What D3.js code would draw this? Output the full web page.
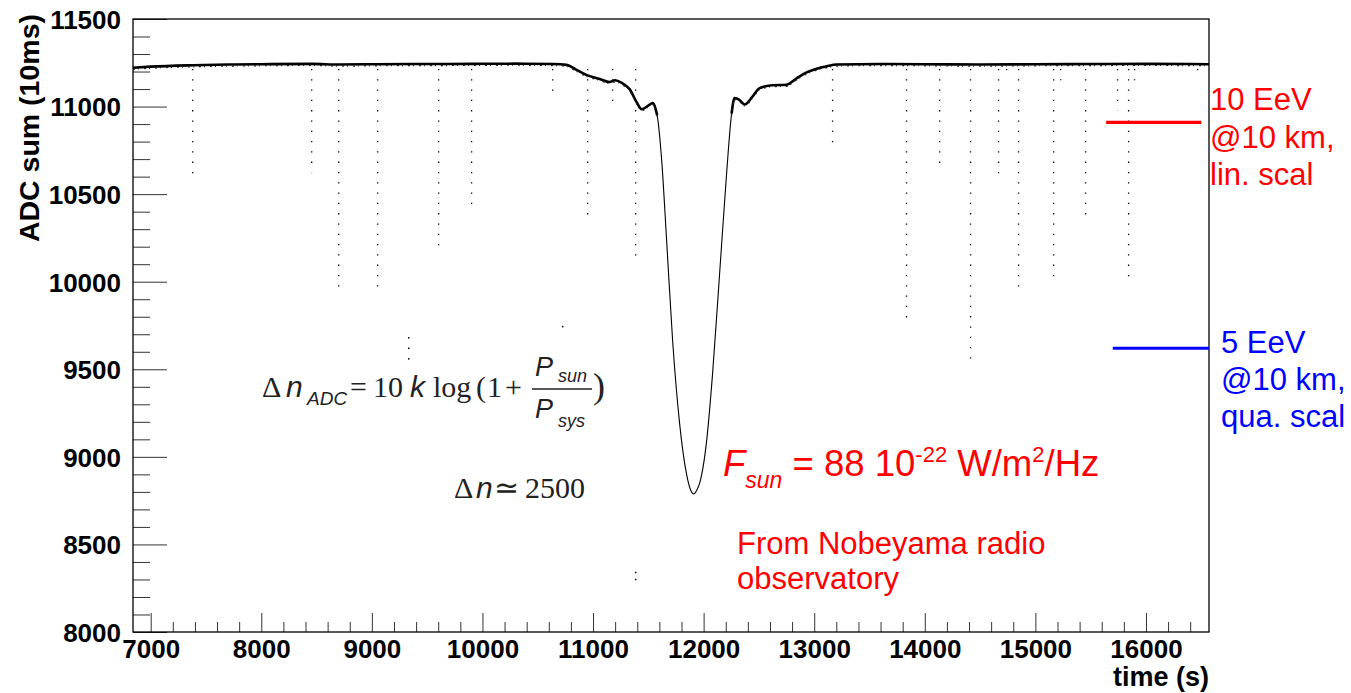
<!DOCTYPE html>
<html>
<head>
<meta charset="utf-8">
<script src="https://cdn.jsdelivr.net/npm/d3@7"></script>
<style>
  body { margin: 0; background: #fff; }
  svg { display: block; }
  .tick line { stroke: #333; }
  .tick text { font-family: "Liberation Sans", Arial, sans-serif; font-weight: bold; font-size: 26px; fill: #000; }
</style>
</head>
<body>
<div id="chart"></div>
<script>
// ADC sum vs time, sun crossing the pixel
var curveTimes = [6840, 7000, 7380, 7700, 8000, 8456, 8700, 9052, 9500, 9902, 10300, 10635, 10760, 10850, 10950,
	11060, 11150, 11200, 11260, 11330, 11390, 11440, 11500, 11540, 11580, 11620, 11665, 11720, 11783, 11846,
	11880, 11910, 11940, 11964, 12027, 12081, 12145, 12208, 12253, 12280, 12320, 12371, 12440, 12506, 12620,
	12750, 12850, 12931, 13030, 13112, 13203, 13600, 14000, 14500, 15000, 15500, 16000, 16570];
var curveValues = [11222, 11228, 11236, 11240, 11242, 11244, 11240, 11242, 11243, 11244, 11245, 11243, 11238, 11210, 11178,
	11158, 11140, 11150, 11135, 11100, 11030, 10985, 11005, 11020, 10950, 10700, 10240, 9660, 9190, 8900,
	8815, 8788, 8812, 8850, 9090, 9475, 10050, 10620, 10960, 11048, 11040, 11012, 11055, 11105, 11122,
	11125, 11165, 11195, 11218, 11230, 11240, 11243, 11242, 11240, 11242, 11243, 11244, 11242];

// single-sample dropouts (dotted vertical streaks)
var spikeTimes = [7380, 8456, 8700, 9052, 9604, 9902, 10635, 10951, 11177, 11385, 13166, 13835, 14134, 14414,
	14667, 14740, 14848, 15165, 15228, 15454, 15743, 15843, 15897, 16467];
var spikeDepths = [10596, 10625, 9950, 9950, 10184, 10424, 11077, 10367, 10990, 10110, 10751, 9755, 10676, 9555,
	10596, 11180, 9938, 10030, 11150, 10350, 10979, 9990, 11150, 11170];

var strayTimes = [9333, 9333, 9333, 10725, 11385, 11385];
var strayValues = [9680, 9620, 9560, 9744, 8340, 8300];

var yTickValues = [8000, 8500, 9000, 9500, 10000, 10500, 11000, 11500];
var xTickValues = [7000, 8000, 9000, 10000, 11000, 12000, 13000, 14000, 15000, 16000];

var redLevel = 10910, blueLevel = 9620;
var redLines = ["10 EeV", "@10 km,", "lin. scal"];
var blueLines = ["5 EeV", "@10 km,", "qua. scal"];

function drawChart() {
	var W = 1351, H = 693;
	var padLeft = 133, padRight = 1209, padTop = 19, padBottom = 632;
	var sans = "'Liberation Sans', Arial, sans-serif";
	var serif = "'Liberation Serif', 'Times New Roman', serif";

	var svg = d3.select("#chart").append("svg").attr("width", W).attr("height", H);
	svg.append("rect").attr("width", W).attr("height", H).attr("fill", "#fff");

	var x = d3.scaleLinear().domain([6840, 16570]).range([padLeft, padRight]);
	var y = d3.scaleLinear().domain([8000, 11500]).range([padBottom, padTop]);

	var minorY = d3.range(8000, 11501, 100).filter(function(v) { return v % 500 != 0; });
	var minorX = d3.range(7000, 16570, 200).filter(function(v) { return v % 1000 != 0; });

	// axes
	var gy = svg.append("g").attr("transform", "translate(" + padLeft + ",0)");
	gy.call(d3.axisLeft(y).tickValues(minorY).tickSize(-17).tickSizeOuter(0).tickFormat(""));
	gy.select(".domain").remove();
	var gy2 = svg.append("g").attr("transform", "translate(" + padLeft + ",0)");
	gy2.call(d3.axisLeft(y).tickValues(yTickValues).tickSize(-34).tickSizeOuter(0).tickPadding(12).tickFormat(d3.format("d")));
	gy2.select(".domain").remove();
	gy2.selectAll("text").attr("dy", "0.36em");

	var gx = svg.append("g").attr("transform", "translate(0," + padBottom + ")");
	gx.call(d3.axisBottom(x).tickValues(minorX).tickSize(-10).tickSizeOuter(0).tickFormat(""));
	gx.select(".domain").remove();
	var gx2 = svg.append("g").attr("transform", "translate(0," + padBottom + ")");
	gx2.call(d3.axisBottom(x).tickValues(xTickValues).tickSize(-19).tickSizeOuter(0).tickPadding(8).tickFormat(d3.format("d")));
	gx2.select(".domain").remove();

	// frame
	svg.append("rect").attr("x", padLeft).attr("y", padTop).attr("width", padRight - padLeft).attr("height", padBottom - padTop)
		.attr("fill", "none").attr("stroke", "#000").attr("stroke-width", 1.3);

	// data
	var data = curveTimes.map(function(t, i) { return {t: t, v: curveValues[i]}; });
	var line = d3.line().x(function(d) { return x(d.t); }).y(function(d) { return y(d.v); }).curve(d3.curveMonotoneX);

	var plot = svg.append("g");

	plot.selectAll(".spike").data(spikeTimes).enter().append("line")
		.attr("x1", function(d) { return x(d); }).attr("x2", function(d) { return x(d); })
		.attr("y1", y(11215)).attr("y2", function(d, i) { return y(spikeDepths[i]); })
		.attr("stroke", "#000").attr("stroke-width", 1.3).attr("stroke-dasharray", "1.3,9");

	plot.selectAll(".stray").data(strayTimes).enter().append("rect")
		.attr("x", function(d) { return x(d) - 0.7; }).attr("y", function(d, i) { return y(strayValues[i]) - 0.7; })
		.attr("width", 1.5).attr("height", 1.5).attr("fill", "#000");

	plot.append("path").datum(data).attr("d", line)
		.attr("fill", "none").attr("stroke", "#000").attr("stroke-width", 1.1);

	var flatLeft = data.filter(function(d) { return d.t <= 11580; });
	var flatRight = data.filter(function(d) { return d.t >= 12253; });
	[flatLeft, flatRight].forEach(function(part) {
		plot.append("path").datum(part).attr("d", line)
			.attr("fill", "none").attr("stroke", "#000").attr("stroke-width", 2.6);
		// rough band texture like the dense scatter
		plot.append("path").datum(part).attr("d", line).attr("transform", "translate(0,1.6)")
			.attr("fill", "none").attr("stroke", "#222").attr("stroke-width", 1.2).attr("stroke-dasharray", "2,3,1,5");
	});

	// axis titles
	svg.append("text").attr("transform", "translate(39,14) rotate(-90)")
		.attr("text-anchor", "end").attr("font-family", sans).attr("font-weight", "bold")
		.attr("font-size", 28.5).text("ADC sum (10ms)");
	svg.append("text").attr("x", padRight).attr("y", 686).attr("text-anchor", "end")
		.attr("font-family", sans).attr("font-weight", "bold").attr("font-size", 27).text("time (s)");

	// formula
	function txt(xp, yp, s, size, fam, italic) {
		svg.append("text").attr("x", xp).attr("y", yp).attr("font-family", fam).attr("font-size", size)
			.attr("font-style", italic ? "italic" : "normal").attr("fill", "#222").text(s);
	}
	txt(262, 397, "\u0394", 30, serif, false);
	txt(286, 397, "n", 30, sans, true);
	txt(307, 405, "ADC", 19, sans, true);
	txt(350, 397, "=", 30, serif, false);
	txt(373, 397, "10", 30, serif, false);
	txt(410, 397, "k", 30, sans, true);
	txt(433, 397, "log", 30, serif, false);
	txt(476, 397, "(", 30, serif, false);
	txt(487, 397, "1", 30, serif, false);
	txt(505, 397, "+", 30, serif, false);
	txt(535, 376, "P", 27, sans, true);
	txt(558, 382, "sun", 18, sans, true);
	svg.append("line").attr("x1", 532).attr("x2", 592).attr("y1", 389).attr("y2", 389).attr("stroke", "#222").attr("stroke-width", 1.5);
	txt(535, 418, "P", 27, sans, true);
	txt(558, 427, "sys", 18, sans, true);
	txt(593, 398, ")", 36, serif, false);

	txt(454, 498, "\u0394", 30, serif, false);
	txt(476, 498, "n", 30, sans, true);
	txt(494, 498, "\u2243", 30, serif, false);
	txt(525, 498, "2500", 30, serif, false);

	// red flux annotation
	var f = svg.append("text").attr("x", 723).attr("y", 476).attr("font-family", sans).attr("fill", "#ff0000").attr("font-size", 36.5);
	f.append("tspan").attr("font-style", "italic").text("F");
	f.append("tspan").attr("font-style", "italic").attr("font-size", 23).attr("dy", 12).text("sun");
	f.append("tspan").attr("dy", -12).text(" = 88 10");
	f.append("tspan").attr("font-size", 22).attr("dy", -14).text("-22");
	f.append("tspan").attr("dy", 14).text(" W/m");
	f.append("tspan").attr("font-size", 22).attr("dy", -14).text("2");
	f.append("tspan").attr("dy", 14).text("/Hz");

	svg.append("text").attr("x", 737).attr("y", 554).attr("font-family", sans).attr("font-size", 31).attr("fill", "#ff0000").text("From Nobeyama radio");
	svg.append("text").attr("x", 737).attr("y", 589).attr("font-family", sans).attr("font-size", 31).attr("fill", "#ff0000").text("observatory");

	// energy markers
	svg.append("line").attr("x1", x(15640)).attr("x2", x(16500)).attr("y1", y(redLevel)).attr("y2", y(redLevel))
		.attr("stroke", "#ff0000").attr("stroke-width", 3.2);
	svg.append("line").attr("x1", x(15700)).attr("x2", padRight).attr("y1", y(blueLevel)).attr("y2", y(blueLevel))
		.attr("stroke", "#0000ff").attr("stroke-width", 3.2);

	redLines.forEach(function(s, i) {
		svg.append("text").attr("x", 1210).attr("y", 110 + i * 37.5).attr("font-family", sans).attr("font-size", 31).attr("fill", "#ff0000").text(s);
	});
	blueLines.forEach(function(s, i) {
		svg.append("text").attr("x", 1221).attr("y", 353 + i * 37).attr("font-family", sans).attr("font-size", 31).attr("fill", "#0000ff").text(s);
	});
}

drawChart();
</script>
</body>
</html>
